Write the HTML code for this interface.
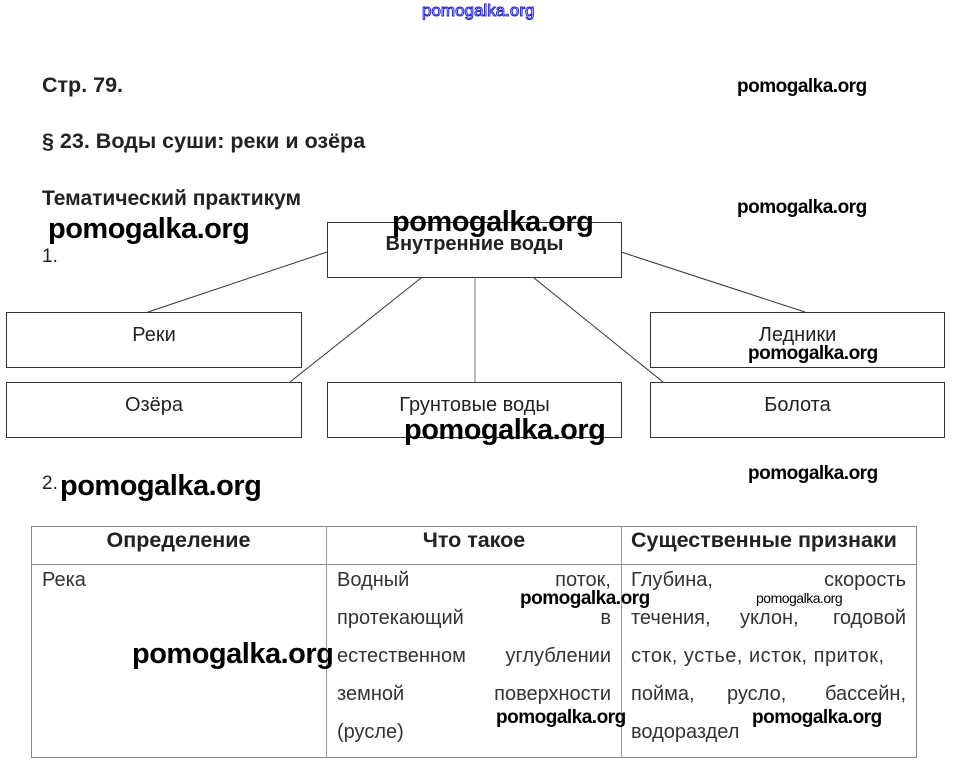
<!DOCTYPE html>
<html><head><meta charset="utf-8"><style>
body{margin:0;width:958px;height:775px;background:#fff;position:relative;overflow:hidden;font-family:"Liberation Sans",sans-serif;color:#222}
.t{position:absolute;white-space:nowrap;line-height:1}
.b{font-weight:bold}
.w{position:absolute;white-space:nowrap;line-height:1;font-weight:bold;color:#000;letter-spacing:-0.5px}
.box{position:absolute;border:1px solid #333;box-sizing:border-box;font-size:20px;text-align:center}
.c{font-size:20px;color:#333}
</style></head><body>
<div class="t" style="left:422px;top:2px;font-size:17px;color:transparent;-webkit-text-stroke:1px #2222dd">pomogalka.org</div>
<div class="t b" style="left:42px;top:75px;font-size:21.5px">Стр. 79.</div>
<div class="w" style="left:737px;top:77px;font-size:19px">pomogalka.org</div>
<div class="t b" style="left:42px;top:131px;font-size:21.5px">§ 23. Воды суши: реки и озёра</div>
<div class="t b" style="left:42px;top:188px;font-size:21px">Тематический практикум</div>
<div class="w" style="left:737px;top:198px;font-size:19px">pomogalka.org</div>
<div class="t" style="left:42px;top:247px;font-size:19px">1.</div>

<svg style="position:absolute;left:0;top:0" width="958" height="775">
<g stroke="#333" stroke-width="1">
<line x1="327" y1="252" x2="148" y2="312"/>
<line x1="421" y1="278" x2="290" y2="382"/>
<line x1="475" y1="278" x2="475" y2="382" stroke="#777"/>
<line x1="534" y1="278" x2="663" y2="382"/>
<line x1="621" y1="252" x2="805" y2="312"/>
</g></svg>

<div class="box" style="left:327px;top:222px;width:295px;height:56px;font-weight:bold;padding-top:10px">Внутренние воды</div>
<div class="box" style="left:6px;top:312px;width:296px;height:56px;padding-top:11px">Реки</div>
<div class="box" style="left:650px;top:312px;width:295px;height:56px;padding-top:11px">Ледники</div>
<div class="box" style="left:6px;top:382px;width:296px;height:56px;padding-top:11px">Озёра</div>
<div class="box" style="left:327px;top:382px;width:295px;height:56px;padding-top:11px">Грунтовые воды</div>
<div class="box" style="left:650px;top:382px;width:295px;height:56px;padding-top:11px">Болота</div>

<div class="w" style="left:48px;top:215px;font-size:29px">pomogalka.org</div>
<div class="w" style="left:392px;top:208px;font-size:29px">pomogalka.org</div>
<div class="w" style="left:748px;top:344px;font-size:19px">pomogalka.org</div>
<div class="w" style="left:404px;top:416px;font-size:29px">pomogalka.org</div>

<div class="t" style="left:42px;top:474px;font-size:19px">2.</div>
<div class="w" style="left:60px;top:472px;font-size:29px">pomogalka.org</div>
<div class="w" style="left:748px;top:464px;font-size:19px">pomogalka.org</div>

<div style="position:absolute;left:31px;top:526px;width:886px;height:232px;border:1px solid #888;box-sizing:border-box"></div>
<div style="position:absolute;left:31px;top:564px;width:886px;height:1px;background:#888"></div>
<div style="position:absolute;left:326px;top:526px;width:1px;height:232px;background:#999"></div>
<div style="position:absolute;left:621px;top:526px;width:1px;height:232px;background:#999"></div>

<div class="t b" style="left:31px;width:295px;text-align:center;top:530px;font-size:21.5px">Определение</div>
<div class="t b" style="left:327px;width:294px;text-align:center;top:530px;font-size:21.5px">Что такое</div>
<div class="t b" style="left:631px;top:530px;font-size:21.5px">Существенные признаки</div>

<div class="t c" style="left:42px;top:570px">Река</div>

<div class="t c" style="left:337px;top:570px">Водный</div><div class="t c" style="right:347px;top:570px">поток,</div>
<div class="t c" style="left:337px;top:608px">протекающий</div><div class="t c" style="right:347px;top:608px">в</div>
<div class="t c" style="left:337px;top:646px">естественном</div><div class="t c" style="right:347px;top:646px">углублении</div>
<div class="t c" style="left:337px;top:684px">земной</div><div class="t c" style="right:347px;top:684px">поверхности</div>
<div class="t c" style="left:337px;top:722px">(русле)</div>

<div class="t c" style="left:631px;top:570px">Глубина,</div><div class="t c" style="right:52px;top:570px">скорость</div>
<div class="t c" style="left:631px;top:608px">течения,</div><div class="t c" style="left:740px;top:608px">уклон,</div><div class="t c" style="right:52px;top:608px">годовой</div>
<div class="t c" style="left:631px;top:646px;letter-spacing:0.5px">сток, устье, исток, приток,</div>
<div class="t c" style="left:631px;top:684px">пойма,</div><div class="t c" style="left:727px;top:684px">русло,</div><div class="t c" style="right:52px;top:684px">бассейн,</div>
<div class="t c" style="left:631px;top:722px">водораздел</div>

<div class="w" style="left:520px;top:589px;font-size:19px">pomogalka.org</div>
<div class="w" style="left:756px;top:591px;font-size:14px;font-weight:normal">pomogalka.org</div>
<div class="w" style="left:132px;top:640px;font-size:29px">pomogalka.org</div>
<div class="w" style="left:496px;top:708px;font-size:19px">pomogalka.org</div>
<div class="w" style="left:752px;top:708px;font-size:19px">pomogalka.org</div>
</body></html>
